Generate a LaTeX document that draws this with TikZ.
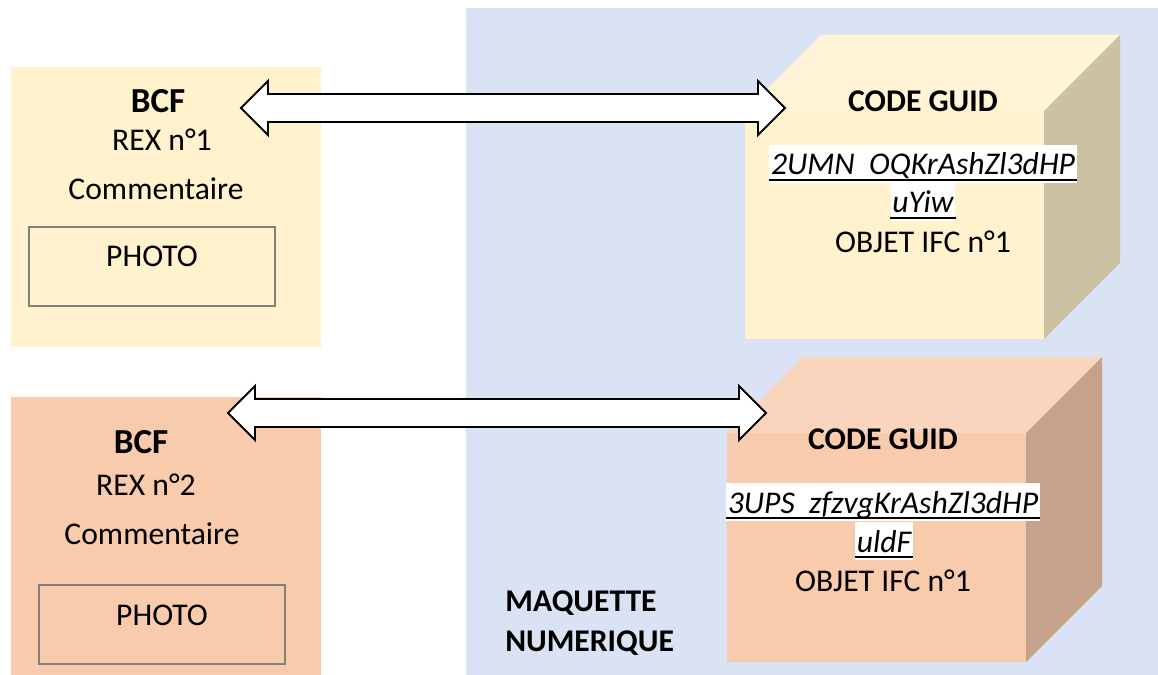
\documentclass[tikz,border=0pt]{standalone}
\usepackage{fontspec}
\setmainfont{Carlito}
\usetikzlibrary{calc}
\definecolor{maqblue}{HTML}{DAE3F3}
\definecolor{rexyellow}{HTML}{FFF2CC}
\definecolor{rexorange}{HTML}{F8CBAD}
\definecolor{photogray}{HTML}{808080}
% block arrow with two heads, from #1 to #2
\newcommand{\dblarrow}[2]{%
  \draw[blockarrow] (#1) -- ++(27,-27) -- ++(0,13) -- ($(#2)+(-27,-14)$) -- ++(0,-13) -- (#2)
    -- ++(-27,27) -- ++(0,-13) -- ($(#1)+(27,14)$) -- ++(0,13) -- cycle;}
\begin{document}
\begin{tikzpicture}[x=0.02cm, y=-0.02cm, font=\fontsize{18}{21}\selectfont,
    txt/.style={anchor=base, inner sep=0pt},
    bold/.style={txt, font=\fontsize{18}{21}\selectfont\bfseries},
    guid/.style={anchor=base, fill=white, inner xsep=1pt, inner ysep=0pt, text height=17pt, text depth=4.5pt, font=\fontsize{18}{21}\selectfont\itshape},
    photobox/.style={draw=photogray, line width=1pt},
    blockarrow/.style={draw=black, line width=1.1pt, fill=white, line join=miter}]
  \useasboundingbox (0,0) rectangle (1158,675);
  % maquette numerique
  \fill[maqblue] (466,8) rectangle (1158,675);
  % REX boxes
  \fill[rexyellow] (11,67) rectangle (321,347);
  \fill[rexorange] (11,397) rectangle (321,675);
  \draw[photobox] (29,227) rectangle (275,306);
  \draw[photobox] (39,585) rectangle (285,664);
  % cubes
  \foreach \n/\xa/\ya/\xb/\yb/\c in {A/745/111/1044/339/rexyellow, B/727/433/1026/662/rexorange}{
    \path (\xa,\ya) coordinate (\n-tl) (\xb,\yb) coordinate (\n-br) (\xb,\ya) coordinate (\n-tr);
    \fill[\c] (\n-tl) rectangle (\n-br);
    \fill[\c!80!white] (\n-tl) -- ++(76,-76) -- ($(\n-tr)+(76,-76)$) -- (\n-tr) -- cycle;
    \fill[\c!80!black] (\n-tr) -- ++(76,-76) -- ($(\n-br)+(76,-76)$) -- (\n-br) -- cycle;
  }
  % arrows
  \path (241,108) coordinate (arrA-l) (785,108) coordinate (arrA-r)
        (228,413) coordinate (arrB-l) (766,413) coordinate (arrB-r);
  \dblarrow{arrA-l}{arrA-r}
  \dblarrow{arrB-l}{arrB-r}
  % texts REX
  \node[txt, font=\fontsize{20}{24}\selectfont\bfseries] (bcfA) at (158,113) {BCF};
  \node[txt] (rexA) at (162,151) {REX n°1};
  \node[txt] (comA) at (156,200) {Commentaire};
  \node[txt] (photoA) at (152,267) {PHOTO};
  \node[txt, font=\fontsize{20}{24}\selectfont\bfseries] (bcfB) at (141,453) {BCF};
  \node[txt] (rexB) at (146,495) {REX n°2};
  \node[txt] (comB) at (152,544) {Commentaire};
  \node[txt] (photoB) at (162,625) {PHOTO};
  % texts cubes
  \node[bold] (codeA) at (923,112) {CODE GUID};
  \node[guid] (guidA1) at (923,175) {2UMN\ \ OQKrAshZl3dHP};
  \node[guid] (guidA2) at (923,213) {uYiw};
  \node[txt] (objA) at (923,253) {OBJET IFC n°1};
  \node[bold] (codeB) at (883,449) {CODE GUID};
  \node[guid] (guidB1) at (883,513) {3UPS\ \ zfzvgKrAshZl3dHP};
  \node[guid] (guidB2) at (884,552) {uldF};
  \node[txt] (objB) at (883,591) {OBJET IFC n°1};
  \foreach \g in {guidA1, guidA2, guidB1, guidB2}
    \draw[line width=1.2pt] ([yshift=-2.6pt]\g.base west) -- ([yshift=-2.6pt]\g.base east);
  \node[bold, anchor=base west] (maqA) at (505,611) {MAQUETTE};
  \node[bold, anchor=base west] (maqB) at (505,651) {NUMERIQUE};
\end{tikzpicture}
\end{document}
